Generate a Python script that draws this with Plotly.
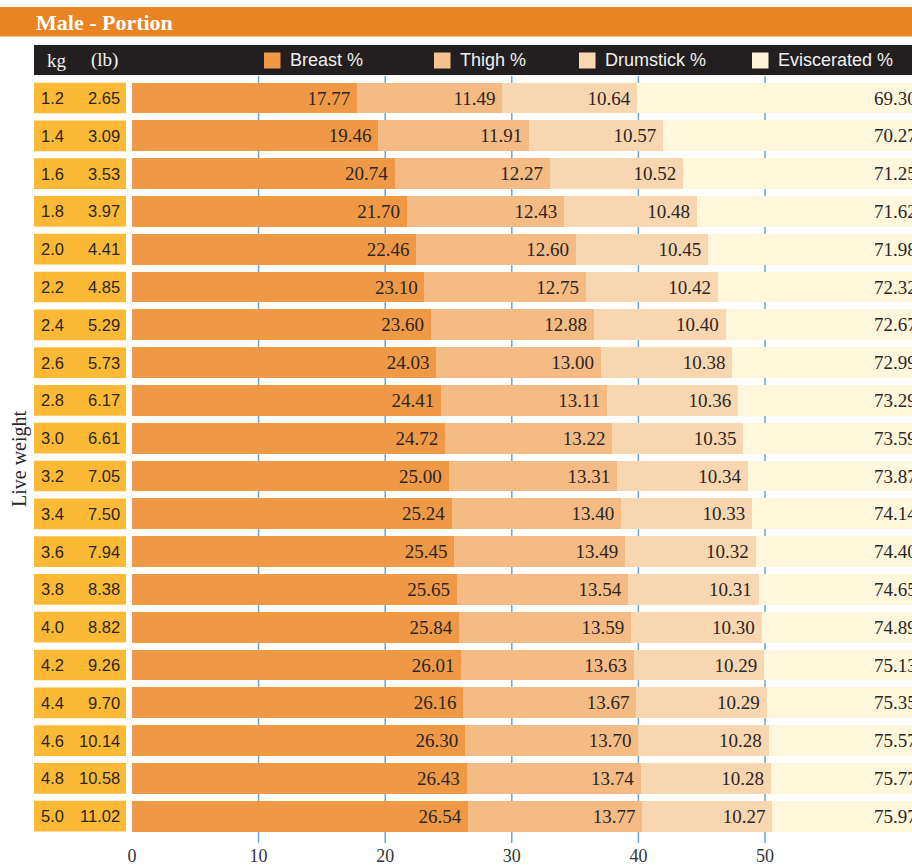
import plotly.graph_objects as go

# ---------------- data ----------------
kg = ["1.2", "1.4", "1.6", "1.8", "2.0", "2.2", "2.4", "2.6", "2.8", "3.0",
      "3.2", "3.4", "3.6", "3.8", "4.0", "4.2", "4.4", "4.6", "4.8", "5.0"]
lb = ["2.65", "3.09", "3.53", "3.97", "4.41", "4.85", "5.29", "5.73", "6.17", "6.61",
      "7.05", "7.50", "7.94", "8.38", "8.82", "9.26", "9.70", "10.14", "10.58", "11.02"]
breast = [17.77, 19.46, 20.74, 21.70, 22.46, 23.10, 23.60, 24.03, 24.41, 24.72,
          25.00, 25.24, 25.45, 25.65, 25.84, 26.01, 26.16, 26.30, 26.43, 26.54]
thigh = [11.49, 11.91, 12.27, 12.43, 12.60, 12.75, 12.88, 13.00, 13.11, 13.22,
         13.31, 13.40, 13.49, 13.54, 13.59, 13.63, 13.67, 13.70, 13.74, 13.77]
drumstick = [10.64, 10.57, 10.52, 10.48, 10.45, 10.42, 10.40, 10.38, 10.36, 10.35,
             10.34, 10.33, 10.32, 10.31, 10.30, 10.29, 10.29, 10.28, 10.28, 10.27]
eviscerated = [69.30, 70.27, 71.25, 71.62, 71.98, 72.32, 72.67, 72.99, 73.29, 73.59,
               73.87, 74.14, 74.40, 74.65, 74.89, 75.13, 75.35, 75.57, 75.77, 75.97]
series_names = ["Breast %", "Thigh %", "Drumstick %", "Eviscerated %"]
x_ticks = [0, 10, 20, 30, 40, 50]

# ---------------- style ----------------
W, H = 912, 866
ML, MR, MT, MB = 132, 0, 76, 23
colors = ["#EF9947", "#F4BB84", "#F8D6AF", "#FEF7DB"]
legend_colors = ["#EF9947", "#F6C28E", "#F8D6AF", "#FEF3D8"]
TXT = "#2A2627"
SERIF = "Liberation Serif"
SANS = "Liberation Sans"
PW = W - ML - MR
PH = H - MT - MB


def px_x(px):
    return (px - ML) / PW


def px_y(py):
    return 1 + (MT - py) / PH


rows = list(range(len(kg)))
fig = go.Figure()
series = [breast, thigh, drumstick, eviscerated]
for i, (name, vals) in enumerate(zip(series_names, series)):
    show_text = i < 3
    fig.add_trace(go.Bar(
        name=name, y=rows, x=vals, orientation="h",
        marker=dict(color=colors[i], line=dict(width=0)),
        text=[f"{v:.2f}\u2009" for v in vals] if show_text else None,
        textposition="inside" if show_text else "none",
        insidetextanchor="end", textangle=0, constraintext="none",
        textfont=dict(family=SERIF, size=19, color=TXT),
        hoverinfo="skip",
    ))

shapes = []
annotations = []

# vertical gridlines (except 0)
for v in x_ticks:
    if v == 0:
        continue
    shapes.append(dict(type="line", xref="x", yref="paper", x0=v, x1=v, y0=0, y1=1,
                       line=dict(color="#6BA6D6", width=1.5), layer="below"))

# title bar
shapes.append(dict(type="rect", xref="paper", yref="paper", x0=px_x(0), x1=1,
                   y0=px_y(36.5), y1=px_y(7), fillcolor="#E88522", line=dict(width=0)))
annotations.append(dict(text="<b>Male - Portion</b>", xref="paper", yref="paper",
                        x=px_x(34), y=px_y(22), xanchor="left", yanchor="middle",
                        showarrow=False, font=dict(family=SERIF, size=22, color="white")))

# header bar
shapes.append(dict(type="rect", xref="paper", yref="paper", x0=px_x(34), x1=1,
                   y0=px_y(75), y1=px_y(45), fillcolor="#231F20", line=dict(width=0)))
annotations.append(dict(text="kg", xref="paper", yref="paper", x=px_x(45), y=px_y(60),
                        xanchor="left", yanchor="middle", showarrow=False,
                        font=dict(family=SERIF, size=19, color="#F2F2F2")))
annotations.append(dict(text="(lb)", xref="paper", yref="paper", x=px_x(89), y=px_y(60),
                        xanchor="left", yanchor="middle", showarrow=False,
                        font=dict(family=SERIF, size=19, color="#F2F2F2")))

# legend in header
legend_sq_x = [264, 434, 579, 752]
for name, c, sx in zip(series_names, legend_colors, legend_sq_x):
    shapes.append(dict(type="rect", xref="paper", yref="paper", x0=px_x(sx), x1=px_x(sx + 16.5),
                       y0=px_y(68.5), y1=px_y(52.5), fillcolor=c, line=dict(width=0)))
    annotations.append(dict(text=name, xref="paper", yref="paper", x=px_x(sx + 24), y=px_y(60.5),
                            xanchor="left", yanchor="middle", showarrow=False,
                            font=dict(family=SANS, size=18, color="#F0F0F0")))

# row label cells
half = 0.406
for r, k, l in zip(rows, kg, lb):
    shapes.append(dict(type="rect", xref="paper", yref="y", x0=px_x(34), x1=px_x(126),
                       y0=r - half, y1=r + half, fillcolor="#FBB936", line=dict(width=0)))
    annotations.append(dict(text=k, xref="paper", yref="y", x=px_x(39), y=r,
                            xanchor="left", yanchor="middle", showarrow=False,
                            font=dict(family=SANS, size=16.5, color=TXT)))
    annotations.append(dict(text=l, xref="paper", yref="y", x=px_x(121.5), y=r,
                            xanchor="right", yanchor="middle", showarrow=False,
                            font=dict(family=SANS, size=16.5, color=TXT)))

# eviscerated values at right edge (partly cut by the page edge)
for r, v in zip(rows, eviscerated):
    annotations.append(dict(text=f"{v:.2f}", xref="paper", yref="y", x=px_x(919), y=r,
                            xanchor="right", yanchor="middle", showarrow=False,
                            font=dict(family=SERIF, size=19, color=TXT)))

# axis title
annotations.append(dict(text="Live weight", xref="paper", yref="paper", x=px_x(19), y=px_y(458),
                        xanchor="center", yanchor="middle", textangle=-90, showarrow=False,
                        font=dict(family=SERIF, size=20, color=TXT)))

x_max = (W - ML - MR) / 126.6 * 10
fig.update_layout(
    width=W, height=H,
    margin=dict(l=ML, r=MR, t=MT, b=MB, pad=0),
    barmode="stack", bargap=0.188,
    paper_bgcolor="white", plot_bgcolor="white",
    showlegend=False,
    xaxis=dict(range=[0, x_max], tickvals=x_ticks, showgrid=False, zeroline=False,
               showline=False, ticks="", tickfont=dict(family=SERIF, size=18, color="#333333"),
               fixedrange=True),
    yaxis=dict(range=[len(kg) - 1 + 0.709, -0.582], showticklabels=False, showgrid=False,
               zeroline=False, showline=False, fixedrange=True),
    shapes=shapes, annotations=annotations,
)

fig.write_html("out.html", config={"displayModeBar": False},
               post_script="document.body.style.margin='0';document.body.style.overflow='hidden';")
